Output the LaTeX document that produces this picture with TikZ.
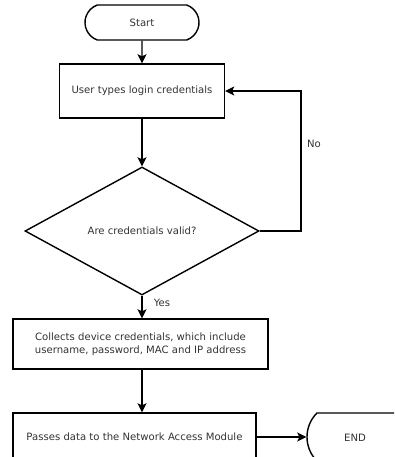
\documentclass[tikz,border=0pt]{standalone}
\usepackage{fontspec}
\setmainfont{DejaVu Sans}
\usetikzlibrary{shapes.geometric,shapes.misc,arrows.meta}
\begin{document}
\begin{tikzpicture}[x=1pt,y=-1pt,
  line width=1.4pt,
  every node/.style={font=\fontsize{10.1}{13.5}\selectfont, text=black!80},
  process/.style={draw, rectangle, inner sep=0pt},
  terminal/.style={draw, rounded rectangle, inner sep=0pt},
  decision/.style={draw, diamond, inner sep=0pt},
  flow/.style={-{Stealth[length=9pt,width=9pt,inset=2pt]}},
  lbl/.style={inner sep=0pt}]
  \useasboundingbox (0,0) rectangle (394,457);
  \clip (0,0) rectangle (394,457);

  % terminals, steps and the check
  \node[terminal, rounded rectangle arc length=140,
        minimum width=114pt, minimum height=35pt] (start) at (142,22.5) {Start};
  \node[process, minimum width=165pt, minimum height=54pt] (login) at (142,91) {User types login credentials};
  \node[decision, minimum width=234pt, minimum height=128pt, aspect=1.83] (check) at (142,231) {Are credentials valid?};
  \node[process, minimum width=255pt, minimum height=50pt, align=center] (collect) at (140.5,344)
        {Collects device credentials, which include\\username, password, MAC and IP address};
  \node[process, minimum width=243pt, minimum height=48pt] (pass) at (134.5,437) {Passes data to the Network Access Module};
  \node[terminal, rounded rectangle arc length=90,
        minimum width=104pt, minimum height=48pt] (finish) at (359,437) {};
  \node[lbl] (endtxt) at (355,438) {END};

  % connectors
  \coordinate (loopA) at (301,231);
  \coordinate (loopB) at (301,91);
  \draw[flow] (start) -- (login);
  \draw[flow] (login) -- (check);
  \draw[flow] (check.east) -- (loopA) -- (loopB) -- (login.east);
  \draw[flow] (check.south) -- (check.south |- collect.north);
  \draw[flow] (check.south |- collect.south) -- (check.south |- pass.north);
  \draw[flow] (pass) -- (finish);

  % branch labels
  \node[lbl] (nolbl) at (314,144) {No};
  \node[lbl] (yeslbl) at (162,303) {Yes};
\end{tikzpicture}
\end{document}
